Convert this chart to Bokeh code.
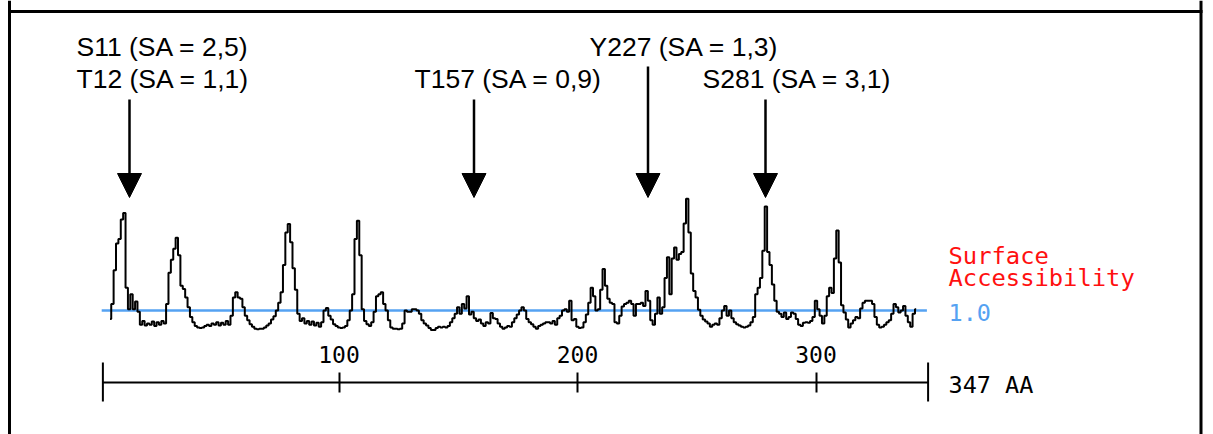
from bokeh.plotting import figure
from bokeh.models import Range1d, Span, Label, Arrow, NormalHead, LinearAxis, FixedTicker
from bokeh.embed import file_html
from bokeh.resources import INLINE

# ---------------- data ----------------
seq_length = 347
first_residue = 4
threshold = 1.0
axis_ticks = [100, 200, 300]
axis_ends = [1, seq_length]

sa_part1 = [0.87, 1.10, 1.62, 2.03, 2.10, 2.40, 2.50, 1.35, 1.02, 1.25, 1.02, 1.14, 0.98, 0.78,
            0.84, 0.77, 0.80, 0.78, 0.83, 0.76, 0.82, 0.78, 0.84, 0.80, 1.10, 1.58, 1.78, 1.95,
            2.12, 1.85, 1.38, 1.33, 1.20, 1.05, 0.90, 0.82, 0.76, 0.74, 0.73, 0.74, 0.76, 0.78,
            0.76, 0.80, 0.78, 0.82, 0.77, 0.81, 0.78, 0.84, 0.78, 0.92, 1.20, 1.28, 1.20]
sa_part2 = [1.18, 1.05, 0.92, 0.85, 0.79, 0.75, 0.72, 0.71, 0.72, 0.72, 0.74, 0.77, 0.80, 0.86,
            0.91, 1.00, 1.12, 1.28, 1.70, 2.20, 2.33, 2.05, 1.65, 1.32, 0.95, 0.84, 0.88, 0.80,
            0.84, 0.78, 0.83, 0.77, 0.81, 0.75, 0.82, 1.00, 1.04, 0.92, 0.86, 0.79, 0.76, 0.74,
            0.73, 0.74, 0.76, 0.85, 1.00, 1.25, 2.10, 2.38, 1.85, 1.02, 0.84, 0.79, 0.76, 0.82,
            0.98, 1.22]
sa_part3 = [1.25, 1.28, 1.10, 1.00, 0.85, 0.74, 0.72, 0.72, 0.71, 0.72, 0.80, 1.00, 0.98, 0.98,
            1.02, 1.02, 1.00, 0.95, 0.85, 0.80, 0.77, 0.73, 0.70, 0.70, 0.73, 0.75, 0.74, 0.75,
            0.74, 0.76, 0.82, 0.88, 0.95, 1.05, 0.95, 1.10, 1.03, 1.22, 0.94, 0.98, 0.88, 0.84,
            0.86, 0.80, 0.76, 0.82, 0.80, 0.96, 0.88, 0.87, 0.80, 0.75, 0.72, 0.74, 0.76, 0.75,
            0.82, 0.88, 0.94]
sa_part4 = [1.00, 1.05, 1.00, 0.87, 0.82, 0.79, 0.75, 0.72, 0.76, 0.78, 0.80, 0.82, 0.82, 0.80,
            0.84, 0.78, 0.88, 0.92, 1.00, 1.02, 0.98, 1.15, 0.85, 0.87, 0.75, 0.73, 0.74, 0.82,
            0.94, 1.12, 1.35, 1.22, 1.00, 1.02, 1.32, 1.64, 1.38, 1.18, 1.12, 1.10, 0.82, 0.80,
            0.92, 1.06, 1.10, 1.12, 1.15, 1.10, 0.92, 1.10, 1.10, 1.12, 1.07, 1.30, 1.15, 0.85,
            0.78, 0.95, 1.20]
sa_part5 = [0.95, 1.05, 1.50, 1.82, 1.25, 1.80, 1.97, 1.78, 1.87, 1.90, 2.34, 2.72, 2.20, 1.57,
            1.30, 1.20, 1.01, 0.92, 0.86, 0.83, 0.80, 0.75, 0.78, 0.80, 0.78, 0.88, 1.00, 1.07,
            0.92, 1.00, 0.88, 0.82, 0.79, 0.77, 0.75, 0.74, 0.75, 0.77, 0.82, 0.90, 1.25, 1.35,
            1.50, 1.92, 2.60, 1.90, 1.70, 1.40, 1.15, 0.98, 0.95, 0.90, 0.97, 0.87, 0.90, 0.97,
            0.95, 0.87]
sa_part6 = [0.78, 0.76, 0.81, 0.82, 0.81, 0.84, 0.90, 1.15, 1.02, 0.92, 0.80, 0.92, 1.22, 1.35,
            1.27, 1.80, 2.23, 1.74, 1.08, 0.97, 0.86, 0.74, 0.80, 0.85, 0.90, 0.88, 1.03, 1.12,
            1.15, 1.15, 1.15, 1.10, 0.90, 0.78, 0.74, 0.75, 0.78, 0.82, 0.85, 0.95, 1.10, 1.05,
            0.97, 1.00, 1.07, 0.92, 0.82, 0.75, 0.95, 1.02]
sa_values = sa_part1 + sa_part2 + sa_part3 + sa_part4 + sa_part5 + sa_part6
residues = list(range(first_residue, first_residue + len(sa_values)))

site_texts = ["S11 (SA = 2,5)", "T12 (SA = 1,1)", "T157 (SA = 0,9)",
              "Y227 (SA = 1,3)", "S281 (SA = 3,1)"]

# ---------------- layout (screenshot pixels) ----------------
W, H = 1204, 434
ORIGIN_X, ORIGIN_Y = 1, 0            # where the canvas lands in the screenshot
TEXT_DY = 8                          # alphabetic text renders this much lower
PX0, PX_PER_RES = 101.0, 2.385       # x of residue 0, pixels per residue
PY_ONE, PY_PER_UNIT = 310.0, 65.0    # y of SA = 1.0, pixels per SA unit


def dx(px):
    return (px - PX0) / PX_PER_RES


def dy(py):
    return 1.0 + (PY_ONE - py) / PY_PER_UNIT


def ty(py):
    return dy(py - TEXT_DY)


p = figure(width=W, height=H, output_backend="svg", toolbar_location=None,
           x_axis_type=None, y_axis_type=None, min_border=0,
           x_range=Range1d(dx(ORIGIN_X), dx(ORIGIN_X + W)),
           y_range=Range1d(dy(ORIGIN_Y + H), dy(ORIGIN_Y)))
p.outline_line_color = None
p.grid.visible = False
p.background_fill_color = "white"
p.border_fill_color = "white"

# frame border (left, right, top)
for loc in [dx(10), dx(1201.5)]:
    p.add_layout(Span(location=loc, dimension="height", line_color="black", line_width=3))
p.segment(x0=[dx(8.5)], y0=[dy(11)], x1=[dx(1203)], y1=[dy(11)],
          line_color="black", line_width=3)

# threshold line
p.line([0.5, seq_length - 0.5], [threshold, threshold], line_color="#55a2f2", line_width=2.5)

# trace
p.step(residues, sa_values, mode="center", line_color="black", line_width=2)

# sequence axis
axis_y = dy(382)
ax = LinearAxis(fixed_location=axis_y, ticker=FixedTicker(ticks=axis_ticks),
                bounds=(axis_ends[0], axis_ends[1]),
                axis_line_width=2, axis_line_color="black",
                major_tick_in=10, major_tick_out=10, major_tick_line_width=2,
                minor_tick_in=0, minor_tick_out=0, major_label_standoff=10,
                major_label_text_font="DejaVu Sans Mono",
                major_label_text_font_size="23px", major_label_text_color="black")
p.add_layout(ax, "above")
# longer end ticks
p.segment(x0=axis_ends, y0=[dy(362)] * 2, x1=axis_ends, y1=[dy(401)] * 2,
          line_color="black", line_width=2)

mono = "DejaVu Sans Mono"
p.add_layout(Label(x=dx(949), y=ty(392), text=f"{seq_length} AA", text_font=mono,
                   text_font_size="23.5px", text_color="black", text_baseline="alphabetic"))
p.add_layout(Label(x=dx(949), y=ty(263.5), text="Surface", text_font=mono,
                   text_font_size="23.8px", text_color="#ff1010", text_baseline="alphabetic"))
p.add_layout(Label(x=dx(949), y=ty(285.5), text="Accessibility", text_font=mono,
                   text_font_size="23.8px", text_color="#ff1010", text_baseline="alphabetic"))
p.add_layout(Label(x=dx(949), y=ty(320), text=f"{threshold:.1f}", text_font=mono,
                   text_font_size="23.5px", text_color="#55a2f2", text_baseline="alphabetic"))

# site labels (text, left px, baseline px)
label_pos = [(77, 54.5), (77, 86.5), (415, 86.5), (590, 54.5), (703, 86.5)]
for txt, (lx, ly) in zip(site_texts, label_pos):
    p.add_layout(Label(x=dx(lx), y=ty(ly), text=txt, text_font="Liberation Sans",
                       text_font_size="26.5px", text_color="black",
                       text_baseline="alphabetic"))

# arrows (x px, start y px)
arrow_pos = [(130, 99), (474.5, 99), (648.5, 66), (766, 99)]
for axp, sy in arrow_pos:
    p.add_layout(Arrow(end=NormalHead(size=24, fill_color="black", line_color="black",
                                      line_width=1),
                       x_start=dx(axp), y_start=dy(sy), x_end=dx(axp), y_end=dy(197),
                       line_color="black", line_width=2.5))

open("out.html", "w").write(file_html(p, INLINE))
